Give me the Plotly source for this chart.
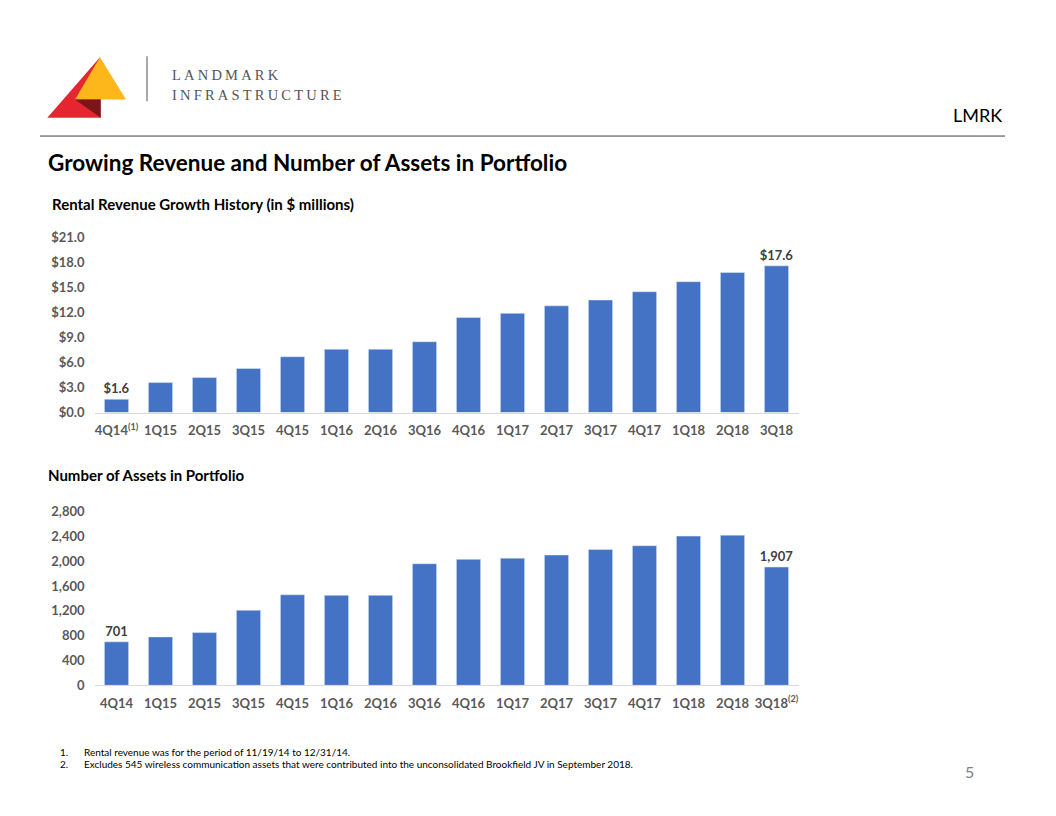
import plotly.graph_objects as go

quarters = ["4Q14", "1Q15", "2Q15", "3Q15", "4Q15", "1Q16", "2Q16", "3Q16",
            "4Q16", "1Q17", "2Q17", "3Q17", "4Q17", "1Q18", "2Q18", "3Q18"]
revenue = [1.6, 3.6, 4.2, 5.3, 6.7, 7.6, 7.6, 8.5,
           11.4, 11.9, 12.8, 13.5, 14.5, 15.7, 16.8, 17.6]
assets = [701, 780, 850, 1210, 1460, 1450, 1450, 1960,
          2030, 2050, 2100, 2190, 2250, 2405, 2420, 1907]
rev_ticks = [0, 3, 6, 9, 12, 15, 18, 21]
asset_ticks = [0, 400, 800, 1200, 1600, 2000, 2400, 2800]
rev_ticklabels = [f"${v:.1f}" for v in rev_ticks]
asset_ticklabels = [f"{v:,}" for v in asset_ticks]
rev_xlabels = [q + ("<sup>(1)</sup>" if i == 0 else "") for i, q in enumerate(quarters)]
asset_xlabels = [q + ("<sup>(2)</sup>" if i == len(quarters) - 1 else "") for i, q in enumerate(quarters)]

n = len(quarters)
rev_text = [f"${v:.1f}" if i in (0, n - 1) else "" for i, v in enumerate(revenue)]
asset_text = [f"{v:,}" if i in (0, n - 1) else "" for i, v in enumerate(assets)]

FONT = "Lato"
BAR = "#4472C4"
OFF = 8  # default page body margin
W, H = 1056 - 2 * OFF, 816 - 2 * OFF


def px(x):
    return (x - OFF) / W


def py(y):
    return 1 - (y - OFF) / H


fig = go.Figure()
fig.add_trace(go.Bar(x=quarters, y=revenue, marker_color=BAR, text=rev_text,
                     textposition="outside", cliponaxis=False, constraintext="none",
                     textfont=dict(family=FONT, size=13, color="#404040", weight="bold"),
                     xaxis="x", yaxis="y", showlegend=False, hoverinfo="skip"))
fig.add_trace(go.Bar(x=quarters, y=assets, marker_color=BAR, text=asset_text,
                     textposition="outside", cliponaxis=False, constraintext="none",
                     textfont=dict(family=FONT, size=13, color="#404040", weight="bold"),
                     xaxis="x2", yaxis="y2", showlegend=False, hoverinfo="skip"))

tickfont = dict(family=FONT, size=13, color="#595959", weight="bold")
xdom = [px(94.5), px(798.5)]

fig.update_layout(
    width=W, height=H, margin=dict(l=0, r=0, t=0, b=0),
    paper_bgcolor="white", plot_bgcolor="white",
    bargap=0.45,
    xaxis=dict(domain=xdom, anchor="y", tickvals=quarters, ticktext=rev_xlabels,
               tickfont=tickfont, showline=True, linecolor="#D9D9D9", linewidth=1,
               showgrid=False, ticks="", ticklabelstandoff=6),
    yaxis=dict(domain=[py(412.7), py(234)], anchor="x", range=[0, 21],
               tickvals=rev_ticks, ticktext=rev_ticklabels, tickfont=tickfont,
               showgrid=False, zeroline=False, ticks="", ticklabelstandoff=9),
    xaxis2=dict(domain=xdom, anchor="y2", tickvals=quarters, ticktext=asset_xlabels,
                tickfont=tickfont, showline=True, linecolor="#D9D9D9", linewidth=1,
                showgrid=False, ticks="", ticklabelstandoff=6),
    yaxis2=dict(domain=[py(691), py(513.7)], anchor="x2", range=[0, 2800],
                tickvals=asset_ticks, ticktext=asset_ticklabels, tickfont=tickfont,
                showgrid=False, zeroline=False, ticks="", ticklabelstandoff=9),
)


def path(pts):
    return "M " + " L ".join(f"{x},{y}" for x, y in pts) + " Z"


def tri(pts, color):
    conv = [(px(x), py(y)) for x, y in pts]
    fig.add_shape(type="path", xref="paper", yref="paper", path=path(conv),
                  fillcolor=color, line=dict(width=0))


# Logo
tri([(100, 50), (47.3, 111.7), (100.7, 111.7)], "#E52630")
tri([(100, 50), (75, 93.3), (126, 93.3)], "#FDB71A")
tri([(75, 93.3), (100.7, 93.3), (100.7, 111.7)], "#7A1518")

fig.add_shape(type="line", xref="paper", yref="paper", x0=px(147), x1=px(147),
              y0=py(49), y1=py(95), line=dict(color="#8C8C8C", width=1.5))
fig.add_shape(type="line", xref="paper", yref="paper", x0=px(40), x1=px(1005),
              y0=py(130.5), y1=py(130.5), line=dict(color="#404040", width=1))


def text(x, y, s, size, color="black", weight="normal", family=FONT, xanchor="left", yanchor="middle"):
    fig.add_annotation(x=px(x), y=py(y), xref="paper", yref="paper", text=s,
                       showarrow=False, xanchor=xanchor, yanchor=yanchor,
                       font=dict(family=family, size=size, color=color, weight=weight))


text(170, 68, '<span style="letter-spacing:3.2px">LANDMARK</span>', 14.5, "#555555", family="Liberation Serif")
text(170, 89, '<span style="letter-spacing:3.2px">INFRASTRUCTURE</span>', 14.5, "#555555", family="Liberation Serif")
text(1004, 109, "LMRK", 18, "black", xanchor="right")
text(46, 157, "Growing Revenue and Number of Assets in Portfolio", 22.5, "black", "bold")
text(50, 200, "Rental Revenue Growth History (in $ millions)", 15, "black", "bold")
text(46, 476, "Number of Assets in Portfolio", 15, "black", "bold")
text(58, 759, "1.", 10, "black")
text(82, 759, "Rental revenue was for the period of 11/19/14 to 12/31/14.", 10, "black")
text(58, 771, "2.", 10, "black")
text(82, 771, "Excludes 545 wireless communication assets that were contributed into the unconsolidated Brookfield JV in September 2018.", 10, "black")
text(969, 779, "5", 16, "#7F7F7F", xanchor="center")

fig.write_html("out.html")
